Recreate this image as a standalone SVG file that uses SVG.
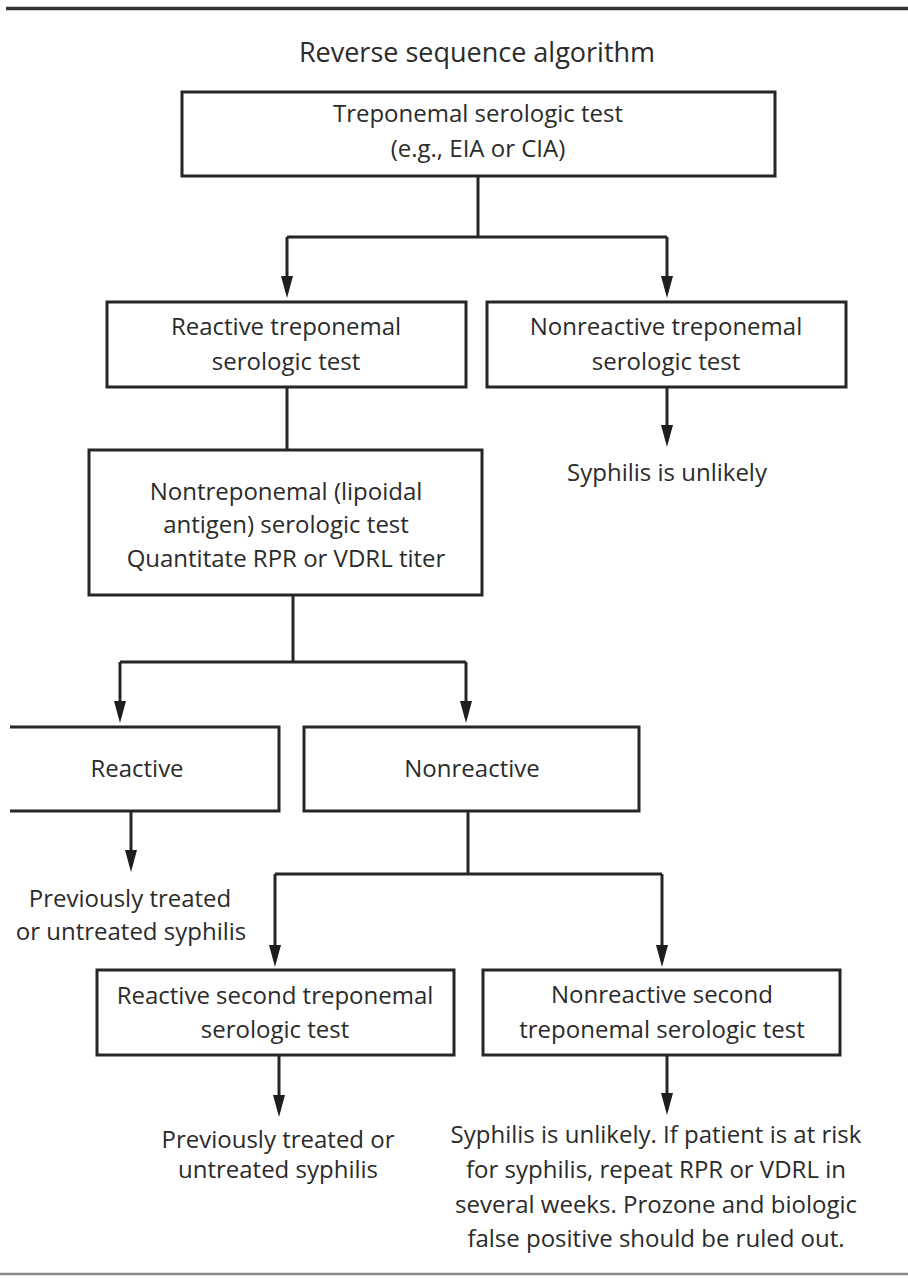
<svg xmlns="http://www.w3.org/2000/svg" width="908" height="1279" viewBox="0 0 908 1279">
<style>
.box{fill:#fff;stroke:#262626;stroke-width:3}
.conn{fill:none;stroke:#262626;stroke-width:3}
.t{font-family:'Open Sans','Liberation Sans',sans-serif;font-size:24px;fill:#2b2b2b;text-anchor:middle}
.title{font-size:27px}
</style>
<defs>
<marker id="ah" viewBox="0 0 22 12" refX="16" refY="6" markerWidth="22" markerHeight="12" markerUnits="userSpaceOnUse" orient="auto">
<path d="M0,0 L22,6 L0,12 z" fill="#1e1e1e"/>
</marker>
</defs>
<rect width="908" height="1279" fill="#fff"/>
<line x1="6" y1="8.5" x2="908" y2="8.5" stroke="#333" stroke-width="3.5"/>
<line x1="0" y1="1274" x2="908" y2="1274" stroke="#8a8a8a" stroke-width="2.5"/>
<text class="t title" x="477" y="62">Reverse sequence algorithm</text>

<g id="connectors">
<path class="conn" d="M478,176 V237"/>
<path class="conn" d="M287,237 H667"/>
<path class="conn" d="M287,237 V292" marker-end="url(#ah)"/>
<path class="conn" d="M667,237 V292" marker-end="url(#ah)"/>
<path class="conn" d="M287,387 V450"/>
<path class="conn" d="M667,387 V441" marker-end="url(#ah)"/>
<path class="conn" d="M293,595 V662"/>
<path class="conn" d="M120,662 H466"/>
<path class="conn" d="M120,662 V717" marker-end="url(#ah)"/>
<path class="conn" d="M466,662 V717" marker-end="url(#ah)"/>
<path class="conn" d="M131,811 V866" marker-end="url(#ah)"/>
<path class="conn" d="M468,811 V874"/>
<path class="conn" d="M275,874 H662"/>
<path class="conn" d="M275,874 V961" marker-end="url(#ah)"/>
<path class="conn" d="M662,874 V961" marker-end="url(#ah)"/>
<path class="conn" d="M279,1055 V1111" marker-end="url(#ah)"/>
<path class="conn" d="M667,1055 V1109" marker-end="url(#ah)"/>
</g>

<g id="n-treponemal">
<rect class="box" x="182" y="92" width="593" height="84"/>
<text class="t" x="478" y="122">Treponemal serologic test</text>
<text class="t" x="478" y="157">(e.g., EIA or CIA)</text>
</g>
<g id="n-reactive-trep">
<rect class="box" x="107" y="302" width="359" height="85"/>
<text class="t" x="286" y="335">Reactive treponemal</text>
<text class="t" x="286" y="370">serologic test</text>
</g>
<g id="n-nonreactive-trep">
<rect class="box" x="487" y="302" width="359" height="85"/>
<text class="t" x="666" y="335">Nonreactive treponemal</text>
<text class="t" x="666" y="370">serologic test</text>
</g>
<g id="n-unlikely1">
<text class="t" x="667" y="481">Syphilis is unlikely</text>
</g>
<g id="n-nontrep">
<rect class="box" x="89" y="450" width="393" height="145"/>
<text class="t" x="286" y="500">Nontreponemal (lipoidal</text>
<text class="t" x="286" y="533">antigen) serologic test</text>
<text class="t" x="286" y="567">Quantitate RPR or VDRL titer</text>
</g>
<g id="n-reactive">
<path class="box" d="M10,727 H279 V811 H10"/>
<text class="t" x="137" y="777">Reactive</text>
</g>
<g id="n-nonreactive">
<rect class="box" x="304" y="727" width="335" height="84"/>
<text class="t" x="472" y="777">Nonreactive</text>
</g>
<g id="n-prev1">
<text class="t" x="130" y="907">Previously treated</text>
<text class="t" x="131" y="940">or untreated syphilis</text>
</g>
<g id="n-reactive-second">
<rect class="box" x="97" y="970" width="357" height="85"/>
<text class="t" x="275" y="1004">Reactive second treponemal</text>
<text class="t" x="275" y="1038">serologic test</text>
</g>
<g id="n-nonreactive-second">
<rect class="box" x="483" y="970" width="357" height="85"/>
<text class="t" x="662" y="1003">Nonreactive second</text>
<text class="t" x="662" y="1038">treponemal serologic test</text>
</g>
<g id="n-prev2">
<text class="t" x="278" y="1148">Previously treated or</text>
<text class="t" x="278" y="1178">untreated syphilis</text>
</g>
<g id="n-unlikely2">
<text class="t" x="656" y="1143">Syphilis is unlikely. If patient is at risk</text>
<text class="t" x="656" y="1178">for syphilis, repeat RPR or VDRL in</text>
<text class="t" x="656" y="1213">several weeks. Prozone and biologic</text>
<text class="t" x="656" y="1247">false positive should be ruled out.</text>
</g>
</svg>
